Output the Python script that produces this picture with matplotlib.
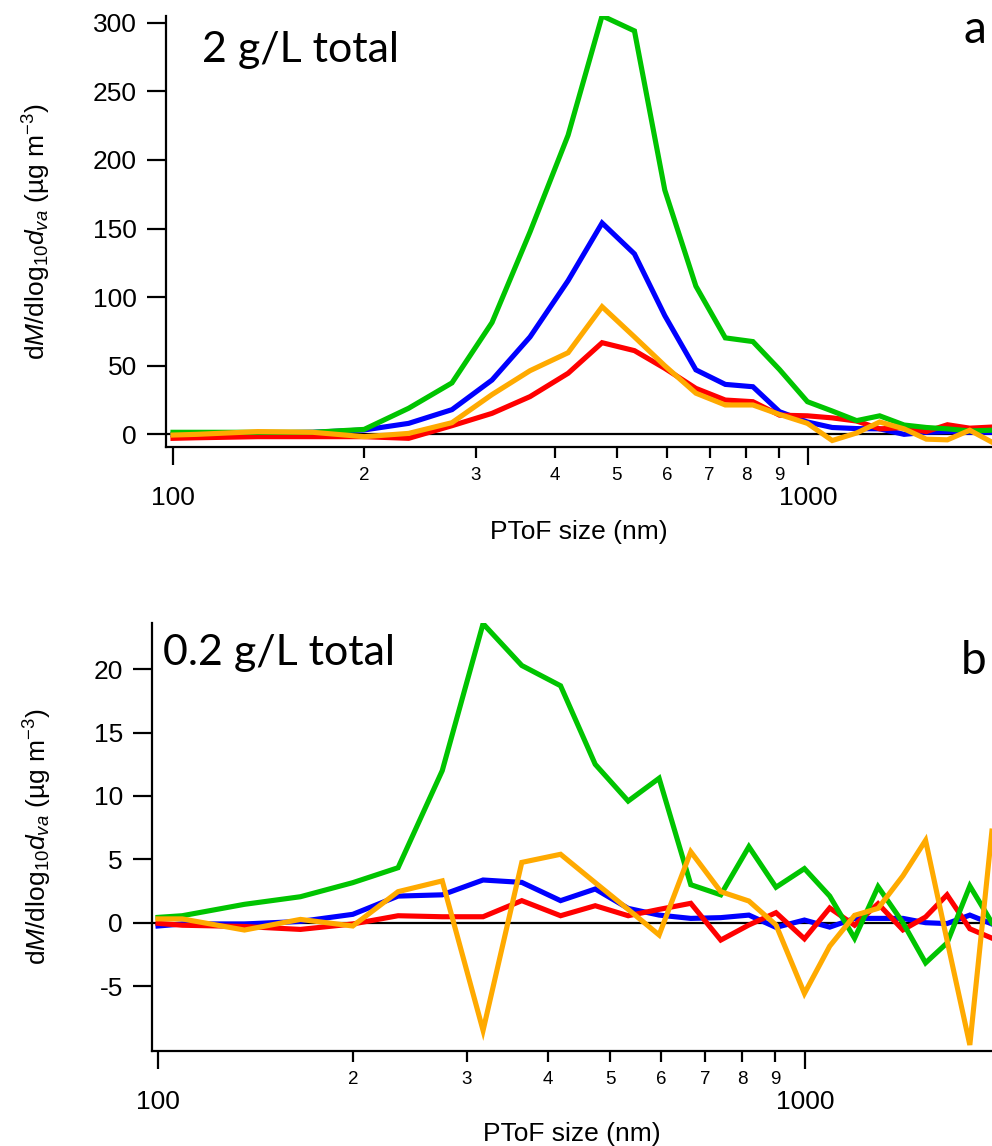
import matplotlib
matplotlib.use("Agg")
import matplotlib.pyplot as plt

# ---------------- data ----------------
size_nm = [100, 109, 136, 166, 200, 235, 275, 318, 365, 419, 474, 533, 595,
           666, 741, 819, 902, 998, 1092, 1193, 1297, 1417, 1536, 1658, 1798, 1945]

# panel a : 2 g/L total
a_green = [1.5, 1.5, 1.5, 1.5, 3.6, 19, 37.5, 81.5, 147.5, 218, 305, 294, 178,
           108, 70.3, 67.6, 47.2, 23.8, 17, 10, 13.5, 6.8, 5, 4, 2.5, 3]
a_blue = [0, 0, 1, 1.5, 3.2, 8, 18, 39.6, 71, 112, 154, 131.5, 86.5,
          47, 36.4, 34.7, 16.5, 9, 5, 4.2, 4, 0, 1.5, 2, 1.5, 1.5]
a_orange = [-0.5, 0, 2, 1.5, -1.7, 0.7, 8.5, 29, 46.4, 59.5, 93, 71, 50,
            30, 21.4, 21.4, 14.5, 8, -4.5, 1, 9, 4, -3.5, -4, 3, -5.5]
a_red = [-2.9, -2.5, -1.7, -1.7, -1.7, -2.9, 6.3, 15.3, 27.5, 44.5, 66.8, 61, 48.1,
         33.5, 25, 23.8, 14, 13.5, 12, 9.7, 4, 5, 2, 7, 4.5, 5.3]

# panel b : 0.2 g/L total
b_green = [0.42, 0.55, 1.45, 2.05, 3.16, 4.34, 12.0, 23.6, 20.3, 18.7, 12.5, 9.6, 11.4,
           3.0, 2.2, 6.0, 2.8, 4.27, 2.1, -1.23, 2.84, 0.0, -3.17, -1.6, 2.9, 0.0]
b_blue = [-0.26, -0.1, -0.1, 0.1, 0.66, 2.1, 2.2, 3.37, 3.18, 1.74, 2.66, 1.13, 0.6,
          0.34, 0.4, 0.6, -0.37, 0.21, -0.35, 0.34, 0.34, 0.34, 0.0, -0.07, 0.6, -0.1]
b_red = [-0.05, -0.2, -0.3, -0.53, -0.1, 0.55, 0.47, 0.47, 1.74, 0.55, 1.34, 0.55, 1.05,
         1.53, -1.37, -0.18, 0.79, -1.27, 1.16, -0.2, 1.5, -0.57, 0.45, 2.2, -0.48, -1.22]
b_orange = [0.3, 0.3, -0.58, 0.26, -0.26, 2.45, 3.3, -8.5, 4.76, 5.4, 3.16, 1.05, -0.97,
            5.6, 2.45, 1.71, -0.18, -5.58, -1.85, 0.58, 1.13, 3.7, 6.5, -1.4, -9.65, 7.23]

major_ticks = [100, 1000]
major_labels = ["100", "1000"]
minor_ticks = [200, 300, 400, 500, 600, 700, 800, 900]
minor_labels = ["2", "3", "4", "5", "6", "7", "8", "9"]

a_yticks = [0, 50, 100, 150, 200, 250, 300]
b_yticks = [-5, 0, 5, 10, 15, 20]

colors = {"green": "#00c400", "blue": "#0000ff", "red": "#ff0000", "orange": "#ffaa00"}

# ---------------- style ----------------
plt.rcParams["font.family"] = ["Liberation Sans", "DejaVu Sans"]
plt.rcParams["mathtext.fontset"] = "custom"
plt.rcParams["mathtext.rm"] = "Liberation Sans"
plt.rcParams["mathtext.it"] = "Liberation Sans:italic"
plt.rcParams["mathtext.bf"] = "Liberation Sans:bold"
plt.rcParams["axes.unicode_minus"] = False

W, H = 992, 1146
fig = plt.figure(figsize=(W / 100, H / 100), dpi=100)

axA = fig.add_axes([165.7 / W, 1 - 446.7 / H, (W - 165.7) / W, (446.7 - 15.8) / H])
axB = fig.add_axes([151.7 / W, 1 - 1051.3 / H, (W - 151.7) / W, (1051.3 - 622.8) / H])

ylabel = r"d$M$/dlog$_{\mathrm{10}}$$d_{va}$ (µg m$^{\mathrm{-3}}$)"
FS = 19


def style_axis(ax, xlim, ylim, yticks, ylab_x, xlab_y):
    ax.set_xscale("log")
    ax.set_xlim(*xlim)
    ax.set_ylim(*ylim)
    for s in ("top", "right"):
        ax.spines[s].set_visible(False)
    for s in ("left", "bottom"):
        ax.spines[s].set_linewidth(1.6)
    ax.axhline(0, color="black", lw=1.6, zorder=1.5)
    ax.set_xticks(major_ticks, labels=major_labels)
    ax.set_xticks(minor_ticks, labels=minor_labels, minor=True)
    ax.set_yticks(yticks)
    ax.tick_params(axis="x", which="major", direction="out", length=13, width=1.6,
                   labelsize=FS, pad=15)
    ax.tick_params(axis="x", which="minor", direction="out", length=8, width=1.6,
                   labelsize=13.5, pad=6.5)
    ax.tick_params(axis="y", which="major", direction="out", length=13.7, width=1.6,
                   labelsize=FS, pad=7)
    ax.tick_params(axis="y", which="minor", left=False)
    ax.set_xlabel("PToF size (nm)", fontsize=FS, va="center")
    ax.xaxis.set_label_coords(0.5, xlab_y)
    ax.set_ylabel(ylabel, fontsize=FS, va="center")
    ax.yaxis.set_label_coords(ylab_x, 0.5)


style_axis(axA, (97.39, 1949), (-9.0, 305.0), a_yticks, -0.1558, -0.197)
style_axis(axB, (97.78, 1945.6), (-10.15, 23.67), b_yticks, -0.1359, -0.194)

lw = 3.7
for ax, series in ((axA, [("blue", a_blue), ("red", a_red), ("green", a_green), ("orange", a_orange)]),
                   (axB, [("blue", b_blue), ("red", b_red), ("green", b_green), ("orange", b_orange)])):
    for name, vals in series:
        ax.plot(size_nm, vals, color=colors[name], lw=lw, solid_joinstyle="miter", zorder=2)

title_font = ["Lato", "DejaVu Sans"]
fig.text(201.7 / W, 1 - 61.7 / H, "2 g/L total", family=title_font, fontsize=31,
         ha="left", va="baseline")
fig.text(163.3 / W, 1 - 665 / H, "0.2 g/L total", family=title_font, fontsize=31,
         ha="left", va="baseline")
fig.text(986 / W, 1 - 43.3 / H, "a", family=title_font, fontsize=33, ha="right", va="baseline")
fig.text(987 / W, 1 - 674 / H, "b", family=title_font, fontsize=33, ha="right", va="baseline")

fig.savefig("out.png", dpi=100)
